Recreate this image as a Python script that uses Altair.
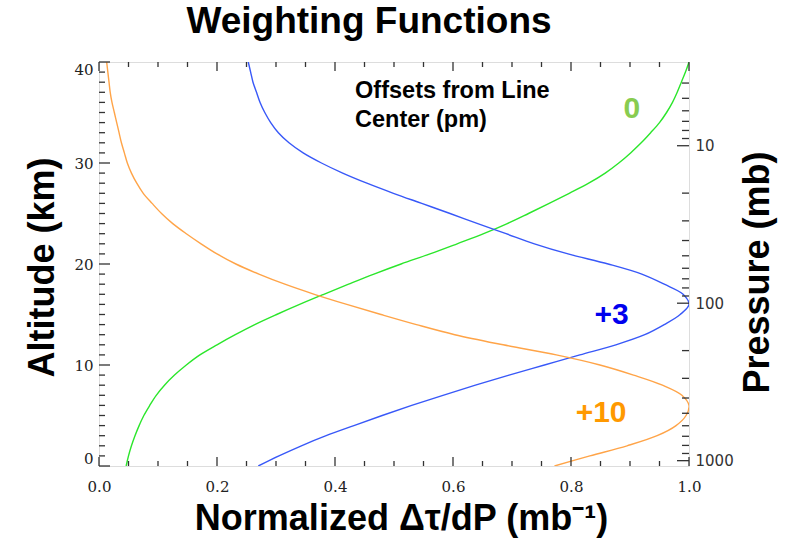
import altair as alt
import pandas as pd

# ---- data ----
altitude = list(range(0, 41))
green_0 = [0.046, 0.050, 0.055, 0.061, 0.068, 0.076, 0.086, 0.097, 0.111, 0.128,
           0.148, 0.171, 0.200, 0.231, 0.264, 0.301, 0.340, 0.381, 0.423, 0.466,
           0.512, 0.561, 0.607, 0.652, 0.692, 0.728, 0.763, 0.797, 0.830, 0.858,
           0.881, 0.901, 0.919, 0.935, 0.950, 0.962, 0.972, 0.980, 0.987, 0.994, 1.0]
blue_3 = [0.270, 0.305, 0.343, 0.385, 0.432, 0.480, 0.530, 0.583, 0.638, 0.695,
          0.755, 0.815, 0.876, 0.925, 0.958, 0.985, 1.000, 0.990, 0.958, 0.920,
          0.863, 0.795, 0.738, 0.690, 0.642, 0.595, 0.547, 0.499, 0.454, 0.413,
          0.377, 0.346, 0.322, 0.304, 0.291, 0.281, 0.273, 0.267, 0.261, 0.257, 0.253]
orange_10 = [0.772, 0.832, 0.895, 0.946, 0.978, 0.995, 1.000, 0.988, 0.955, 0.906,
             0.849, 0.775, 0.685, 0.603, 0.538, 0.478, 0.420, 0.365, 0.315, 0.271,
             0.232, 0.200, 0.173, 0.148, 0.125, 0.106, 0.090, 0.075, 0.064, 0.055,
             0.048, 0.043, 0.038, 0.034, 0.030, 0.026, 0.022, 0.019, 0.017, 0.015, 0.013]
series_names = ["0", "+3", "+10"]
line_colors = ["#2BE62B", "#3858F8", "#FFA448"]
label_colors = ["#88CC50", "#0000EE", "#FF9900"]

x_major = [0.0, 0.2, 0.4, 0.6, 0.8, 1.0]
x_minor = [0.05, 0.10, 0.15, 0.25, 0.30, 0.35, 0.45, 0.50, 0.55,
           0.65, 0.70, 0.75, 0.85, 0.90, 0.95]
alt_major = [0, 10, 20, 30, 40]
alt_minor = [a for a in range(1, 40) if a % 10 != 0]
p_major = [10, 100, 1000]
p_minor = [4, 5, 6, 7, 8, 9, 20, 30, 40, 50, 60, 70, 80, 90,
           200, 300, 400, 500, 600, 700, 800, 900]
p_domain = [2.94, 1081]

note_lines = ["Offsets from Line", "Center (pm)"]
note_x = [0.434, 0.434]
note_y = [36.4, 33.6]
tag_x = [0.903, 0.869, 0.851]
tag_y = [34.46, 14.06, 4.36]

W, H = 590, 404
SANS = "Liberation Sans"

# ---- tables ----
rows = []
for name, vals in zip(series_names, [green_0, blue_3, orange_10]):
    for a, v in zip(altitude, vals):
        rows.append({"alt": a, "val": v, "series": name})
curves_df = pd.DataFrame(rows)

xs = alt.Scale(domain=[0, 1], nice=False, zero=False)
ys = alt.Scale(domain=[0, 40], nice=False, zero=False)
ps = alt.Scale(type="log", domain=p_domain, reverse=True, nice=False)

x_axis = alt.Axis(
    values=x_major, format=".1f", ticks=False, tickSize=0, domain=False, grid=False,
    labelFont="DejaVu Serif", labelFontSize=15, labelColor="#222", labelPadding=13,
    labelFlush=False,
    title="Normalized Δτ/dP (mb⁻¹)", titleFont=SANS, titleFontSize=36, titleFontWeight="bold",
    titleColor="#000", titleX=302, titleY=63, titleAlign="center", titleBaseline="alphabetic")
y_axis = alt.Axis(
    values=alt_major, format="d", ticks=False, tickSize=0, domain=False, grid=False,
    labelFont="DejaVu Serif", labelFontSize=15, labelColor="#222", labelPadding=6,
    labelFlush=True,
    title="Altitude (km)", titleFont=SANS, titleFontSize=36, titleFontWeight="bold",
    titleColor="#000", titleAngle=270, titleX=-46, titleY=205, titleAlign="center",
    titleBaseline="alphabetic")
p_axis = alt.Axis(
    orient="right", values=p_major, format="d", ticks=False, tickSize=0, domain=False, grid=False,
    labelFont="DejaVu Sans", labelFontSize=15, labelColor="#333", labelPadding=6,
    labelFlush=False,
    title="Pressure (mb)", titleFont=SANS, titleFontSize=36, titleFontWeight="bold",
    titleColor="#000", titleAngle=270, titleX=79, titleY=210, titleAlign="center",
    titleBaseline="alphabetic")

curves = alt.Chart(curves_df).mark_line(strokeWidth=1.4, interpolate="catmull-rom", clip=True).encode(
    x=alt.X("val:Q", scale=xs, axis=x_axis),
    y=alt.Y("alt:Q", scale=ys, axis=y_axis),
    color=alt.Color("series:N", scale=alt.Scale(domain=series_names, range=line_colors), legend=None),
    order=alt.Order("alt:Q"),
)

tick_color = "#333"
xmaj_df = pd.DataFrame({"v": x_major})
xmin_df = pd.DataFrame({"v": x_minor})


def xticks(df, length):
    bottom = alt.Chart(df).mark_rule(color=tick_color, strokeWidth=1.3).encode(
        x=alt.X("v:Q", scale=xs, axis=x_axis), y=alt.value(H), y2=alt.value(H - length))
    top = alt.Chart(df).mark_rule(color=tick_color, strokeWidth=1.3).encode(
        x=alt.X("v:Q", scale=xs, axis=x_axis), y=alt.value(0), y2=alt.value(length))
    return [bottom, top]


amaj_df = pd.DataFrame({"v": alt_major})
amin_df = pd.DataFrame({"v": alt_minor})


def yticks(df, length):
    return alt.Chart(df).mark_rule(color=tick_color, strokeWidth=1.3).encode(
        y=alt.Y("v:Q", scale=ys, axis=y_axis), x=alt.value(0), x2=alt.value(length))


notes_df = pd.DataFrame({"x": note_x, "y": note_y, "t": note_lines})
notes = alt.Chart(notes_df).mark_text(
    font=SANS, fontSize=23.5, fontWeight="bold", color="#000", align="left", baseline="alphabetic"
).encode(x=alt.X("x:Q", scale=xs, axis=x_axis), y=alt.Y("y:Q", scale=ys, axis=y_axis), text="t:N")

tags_df = pd.DataFrame({"x": tag_x, "y": tag_y, "t": series_names, "c": label_colors})
tags = alt.Chart(tags_df).mark_text(
    font=SANS, fontSize=30, fontWeight="bold", align="center", baseline="alphabetic"
).encode(x=alt.X("x:Q", scale=xs, axis=x_axis), y=alt.Y("y:Q", scale=ys, axis=y_axis), text="t:N",
         color=alt.Color("c:N", scale=None))

main = alt.layer(curves, *xticks(xmaj_df, 9), *xticks(xmin_df, 5),
                 yticks(amaj_df, 11), yticks(amin_df, 6), notes, tags)


def pticks(values, length):
    return alt.Chart(pd.DataFrame({"p": values})).mark_rule(color=tick_color, strokeWidth=1.3).encode(
        y=alt.Y("p:Q", scale=ps, axis=p_axis), x=alt.value(W - length), x2=alt.value(W))


pressure = alt.layer(pticks(p_major, 12), pticks(p_minor, 7))

chart = alt.layer(main, pressure).resolve_scale(y="independent").properties(
    width=W, height=H,
    title=alt.TitleParams("Weighting Functions", font=SANS, fontSize=37, fontWeight="bold",
                          color="#000", frame="group", anchor="middle", dx=-25, offset=-9,
                          baseline="alphabetic"),
    autosize=alt.AutoSizeParams(type="none"),
    padding={"left": 99, "top": 62, "right": 99, "bottom": 81},
).configure_view(stroke="#333", strokeWidth=1.5).configure(background="white")

chart.save("out.html", embed_options={"renderer": "svg", "actions": False})
